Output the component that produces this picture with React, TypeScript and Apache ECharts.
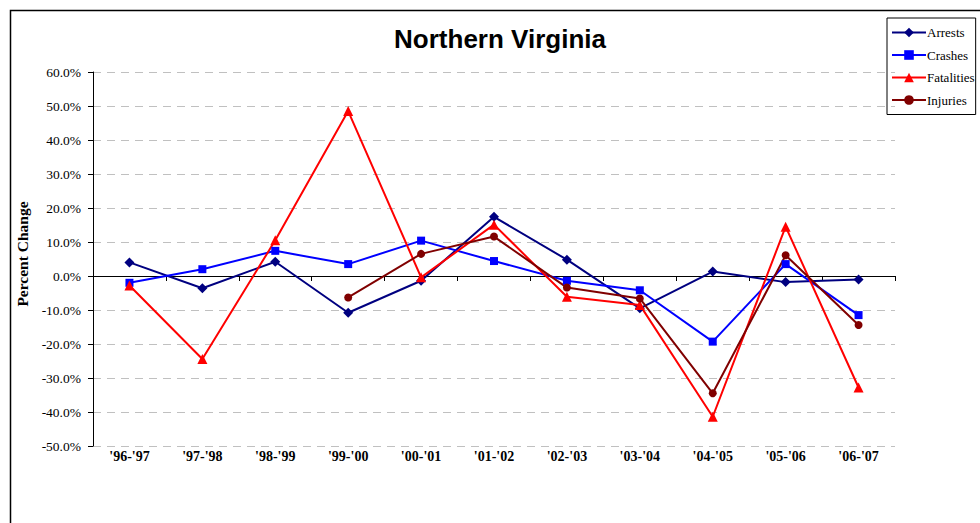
import React, { useEffect, useRef } from "react";
import * as echarts from "echarts";

const categories = ["'96-'97", "'97-'98", "'98-'99", "'99-'00", "'00-'01", "'01-'02", "'02-'03", "'03-'04", "'04-'05", "'05-'06", "'06-'07"];
const arrests = [4.0, -3.6, 4.2, -10.8, -1.4, 17.4, 4.8, -9.5, 1.3, -1.8, -1.0];
const crashes = [-2.0, 2.0, 7.4, 3.5, 10.4, 4.4, -1.4, -4.2, -19.3, 3.5, -11.5];
const fatalities = [-2.8, -24.4, 10.5, 48.5, -0.4, 15.1, -6.1, -8.5, -41.4, 14.5, -32.8];
const injuries: (number | null)[] = [null, null, null, -6.3, 6.5, 11.6, -3.4, -6.6, -34.5, 6.1, -14.4];
const yTicks = { min: -50, max: 60, interval: 10 };

const serif = "'Liberation Serif', 'Times New Roman', serif";
const sans = "'Liberation Sans', Arial, sans-serif";

export default function App() {
  const ref = useRef<HTMLDivElement>(null);
  useEffect(() => {
    if (!ref.current) return;
    const chart = echarts.init(ref.current, null, { renderer: "svg" });
    const mk = (name: string, data: (number | null)[], color: string, symbol: string, size: number) => ({
      name,
      type: "line",
      data,
      xAxisIndex: 0,
      symbol,
      symbolSize: size,
      itemStyle: { color },
      lineStyle: { color, width: 2 },
    });
    chart.setOption({
      animation: false,
      backgroundColor: "#fff",
      title: {
        text: "Northern Virginia",
        left: 500,
        textAlign: "center",
        top: 26,
        padding: 0,
        textStyle: { fontFamily: sans, fontWeight: "bold", fontSize: 26, color: "#000" },
      },
      legend: {
        orient: "vertical",
        left: 887,
        top: 18,
        itemWidth: 34,
        itemHeight: 12,
        itemGap: 9.5,
        padding: [8, 1, 8, 4],
        borderColor: "#000",
        borderWidth: 1,
        textStyle: { fontFamily: serif, fontSize: 13, color: "#000", padding: [0, 0, 0, -4] },
        data: ["Arrests", "Crashes", "Fatalities", "Injuries"],
      },
      grid: { left: 93, right: 85, top: 72, bottom: 77, containLabel: false },
      xAxis: [
        {
          type: "category",
          data: categories,
          boundaryGap: true,
          position: "bottom",
          axisLine: { show: true, onZero: true, lineStyle: { color: "#000", width: 1 } },
          axisTick: { show: true, length: 5, lineStyle: { color: "#000" } },
          axisLabel: { show: false },
          splitLine: { show: false },
        },
        {
          type: "category",
          data: categories,
          boundaryGap: true,
          position: "bottom",
          axisLine: { show: false, onZero: false },
          axisTick: { show: false },
          axisLabel: { show: true, margin: 3, fontFamily: serif, fontWeight: "bold", fontSize: 14, color: "#000", interval: 0 },
          splitLine: { show: false },
        },
      ],
      yAxis: {
        type: "value",
        min: yTicks.min,
        max: yTicks.max,
        interval: yTicks.interval,
        name: "Percent Change",
        nameLocation: "middle",
        nameGap: 62,
        nameTextStyle: { fontFamily: serif, fontWeight: "bold", fontSize: 15.5, color: "#000", padding: [0, 0, 0, 10] },
        axisLine: { show: true, lineStyle: { color: "#000", width: 1 } },
        axisTick: { show: true, length: 5, lineStyle: { color: "#000" } },
        axisLabel: {
          fontFamily: serif,
          fontSize: 13.5,
          color: "#000",
          margin: 12,
          formatter: (v: number) => v.toFixed(1) + "%",
        },
        splitLine: { show: true, lineStyle: { color: "#c0c0c0", type: [8, 6], width: 1 } },
      },
      graphic: [
        {
          type: "rect",
          left: 8,
          top: 8,
          shape: { x: 0, y: 0, width: 1100, height: 700 },
          style: { fill: "none", stroke: "#000", lineWidth: 1.5 },
          silent: true,
        },
      ],
      series: [
        mk("Arrests", arrests, "#000080", "diamond", 10),
        mk("Crashes", crashes, "#0000ff", "rect", 8),
        mk("Fatalities", fatalities, "#ff0000", "triangle", 10),
        mk("Injuries", injuries, "#800000", "circle", 8),
      ],
    });
    return () => chart.dispose();
  }, []);
  return <div ref={ref} style={{ position: "fixed", left: 0, top: 0, width: 980, height: 523 }} />;
}
